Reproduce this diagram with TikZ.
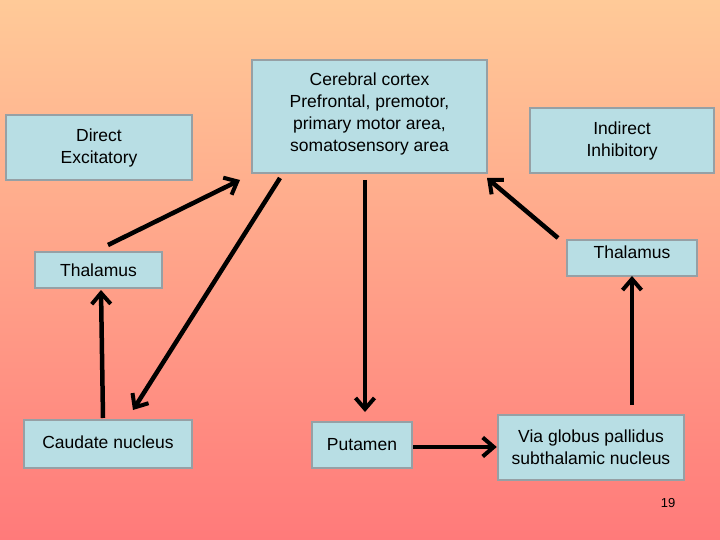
\documentclass[tikz,border=0pt]{standalone}
\usepackage{fontspec}
\setmainfont{Liberation Sans}
\usetikzlibrary{arrows.meta}
\definecolor{boxfill}{RGB}{184,222,228}
\definecolor{boxline}{RGB}{150,160,165}
\begin{document}
\begin{tikzpicture}[x=1pt,y=-1pt,
  box/.style={draw=boxline,line width=2.5pt,fill=boxfill,align=center,font=\fontsize{17.5}{22}\selectfont,inner sep=0pt},
  arr/.style={line width=4.5pt,-{Straight Barb[length=11pt,width=19pt,line width=4pt]}}]
\shade[top color={rgb,255:red,255;green,202;blue,152},bottom color={rgb,255:red,255;green,122;blue,122}] (0,0) rectangle (720,540);
\useasboundingbox (0,0) rectangle (720,540);
\node[box,minimum width=186,minimum height=65] (de) at (99,147.5) {Direct\\Excitatory};
\node[box,minimum width=235,minimum height=113] (cc) at (369.5,116.5) {Cerebral cortex\\Prefrontal, premotor,\\primary motor area,\\somatosensory area\\[-14pt]};
\node[box,minimum width=184,minimum height=65] (ii) at (622,140.5) {Indirect\\Inhibitory};
\node[box,minimum width=127,minimum height=36] (tl) at (98.5,270) {Thalamus};
\node[box,minimum width=130,minimum height=36] (tr) at (632,258) {Thalamus\\[-10pt]};
\node[box,minimum width=168,minimum height=48] (cn) at (108,444) {Caudate nucleus\\[-18pt]};
\node[box,minimum width=100,minimum height=46] (pu) at (362,445) {Putamen\\[-20pt]};
\node[box,minimum width=186,minimum height=65] (gp) at (591,447.5) {Via globus pallidus\\subthalamic nucleus};
\node[font=\fontsize{13}{15}\selectfont] (pg) at (668,503) {19};
\coordinate (a1) at (108,245); \coordinate (b1) at (240,180);
\coordinate (a2) at (280,178); \coordinate (b2) at (133,410);
\coordinate (a3) at (365,180); \coordinate (b3) at (365,412);
\coordinate (a4) at (558,238); \coordinate (b4) at (487,178);
\coordinate (a5) at (103,418); \coordinate (b5) at (101,290);
\coordinate (a6) at (632,405); \coordinate (b6) at (632,276);
\draw[arr] (a1) -- (b1);
\draw[arr] (a2) -- (b2);
\draw[arr] (a3) -- (b3);
\draw[arr] (a4) -- (b4);
\draw[arr] (a5) -- (b5);
\draw[arr] (a6) -- (b6);
\draw[arr] (pu.east |- 0,447) -- (gp.west |- 0,447);
\end{tikzpicture}
\end{document}
